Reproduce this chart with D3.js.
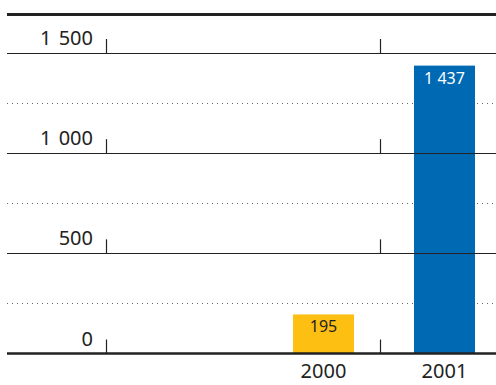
<!DOCTYPE html>
<html>
<head>
<meta charset="utf-8">
<script src="https://cdn.jsdelivr.net/npm/d3@7/dist/d3.min.js"></script>
<style>
  html, body { margin: 0; padding: 0; background: #fff; }
  svg { display: block; }
  text { font-family: "Noto Sans", "Open Sans", sans-serif; fill: #222; }
</style>
</head>
<body>
<svg id="chart" width="496" height="385"></svg>
<script>
// Annual figures
const years = ["2000", "2001"];
const values = [195, 1437];
const barColors = ["#fcbf12", "#0069b4"];
const labelColors = ["#222", "#fff"];
const majorTicks = [0, 500, 1000, 1500];
const minorTicks = [250, 750, 1250];

const svg = d3.select("#chart");
const W = 496;
const left = 7;

const y = d3.scaleLinear().domain([0, 1500]).range([353.5, 53]);
const x = d3.scaleBand().domain(years).range([263, 505])
  .paddingInner(0.496).paddingOuter(0.248);

const fmt = d3.formatLocale({ decimal: ",", thousands: " ", grouping: [3], currency: ["", ""] }).format(",d");

// heavy rule along the top
svg.append("line")
  .attr("x1", left).attr("x2", W).attr("y1", 14.5).attr("y2", 14.5)
  .attr("stroke", "#222").attr("stroke-width", 3);

// dotted half-step gridlines
svg.append("g").selectAll("line").data(minorTicks).join("line")
  .attr("x1", left).attr("x2", W)
  .attr("y1", d => Math.round(y(d)) + 0.5).attr("y2", d => Math.round(y(d)) + 0.5)
  .attr("stroke", "#666").attr("stroke-width", 1).attr("stroke-dasharray", "1,4");

// bars
svg.append("g").selectAll("rect").data(values).join("rect")
  .attr("x", (d, i) => x(years[i]))
  .attr("width", x.bandwidth())
  .attr("y", d => y(d))
  .attr("height", d => y(0) - y(d))
  .attr("fill", (d, i) => barColors[i]);

// solid gridlines
svg.append("g").selectAll("line").data(majorTicks).join("line")
  .attr("x1", left).attr("x2", W)
  .attr("y1", d => d === 0 ? y(d) : Math.round(y(d)) + 0.5)
  .attr("y2", d => d === 0 ? y(d) : Math.round(y(d)) + 0.5)
  .attr("stroke", "#222").attr("stroke-width", d => d === 0 ? 2.5 : 1.2);

// short upright ticks on each gridline
const dividers = [106.5, 380.5];
const tg = svg.append("g");
majorTicks.forEach(t => {
  dividers.forEach(dx => {
    tg.append("line")
      .attr("x1", dx).attr("x2", dx)
      .attr("y1", y(t) - 14).attr("y2", y(t))
      .attr("stroke", "#222").attr("stroke-width", 1.2);
  });
});

// value axis labels
svg.append("g").selectAll("text").data(majorTicks).join("text")
  .attr("x", 93).attr("y", d => y(d) - 8)
  .attr("text-anchor", "end").attr("font-size", 20)
  .attr("word-spacing", 2)
  .text(d => fmt(d));

// year labels
svg.append("g").selectAll("text").data(years).join("text")
  .attr("x", d => x(d) + x.bandwidth() / 2).attr("y", 378)
  .attr("text-anchor", "middle").attr("font-size", 20)
  .text(d => d);

// values inside bars
svg.append("g").selectAll("text").data(values).join("text")
  .attr("x", (d, i) => x(years[i]) + x.bandwidth() / 2)
  .attr("y", d => y(d) + 18)
  .attr("text-anchor", "middle").attr("font-size", 16)
  .style("fill", (d, i) => labelColors[i])
  .text(d => fmt(d));
</script>
</body>
</html>
